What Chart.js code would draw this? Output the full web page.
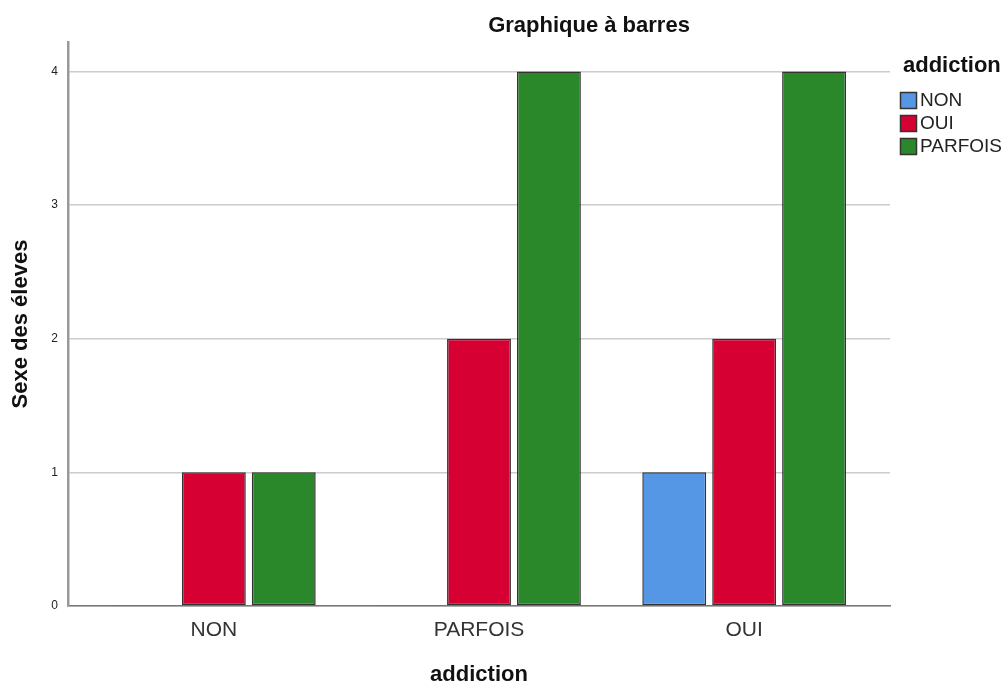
<!DOCTYPE html>
<html>
<head>
<meta charset="utf-8">
<script src="https://cdn.jsdelivr.net/npm/chart.js@4"></script>
<style>
  html, body { margin: 0; padding: 0; background: #ffffff; }
  #wrap { width: 1006px; height: 684px; }
</style>
</head>
<body>
<div id="wrap"><canvas id="barChart" width="1006" height="684"></canvas></div>
<script>
const categories = ['NON', 'PARFOIS', 'OUI'];
const seriesNames = ['NON', 'OUI', 'PARFOIS'];
const valuesNon = [0, 0, 1];
const valuesOui = [1, 2, 2];
const valuesParfois = [1, 4, 4];
const yTicks = [0, 1, 2, 3, 4];

const colors = ['#5596e5', '#d70033', '#2a882b'];
const FONT = '"Liberation Sans", Arial, sans-serif';

function toPoints(values) {
    return values.map(function(v, i) { return { x: i, y: v }; });
}

// titre et légende dessinés à la main pour caler les positions
const decorPlugin = {
    id: 'decor',
    afterDraw: function(chart) {
        const ctx = chart.ctx;
        ctx.save();
        ctx.fillStyle = '#111';
        ctx.font = 'bold 22px ' + FONT;
        ctx.textAlign = 'center';
        ctx.textBaseline = 'middle';
        ctx.fillText('Graphique à barres', 589, 26);

        ctx.textAlign = 'left';
        ctx.font = 'bold 22px ' + FONT;
        ctx.fillText('addiction', 903, 66);

        ctx.font = '19px ' + FONT;
        chart.data.datasets.forEach(function(ds, i) {
            const y = 100 + i * 23;
            ctx.fillStyle = ds.backgroundColor;
            ctx.fillRect(900, y - 8, 17, 17);
            ctx.strokeStyle = '#333';
            ctx.lineWidth = 1.5;
            ctx.strokeRect(900.5, y - 7.5, 16, 16);
            ctx.fillStyle = '#222';
            ctx.fillText(ds.label, 920, y + 1);
        });
        ctx.restore();
    }
};

const ctx = document.getElementById('barChart').getContext('2d');

new Chart(ctx, {
    type: 'bar',
    data: {
        datasets: [valuesNon, valuesOui, valuesParfois].map(function(vals, i) {
            return {
                label: seriesNames[i],
                data: toPoints(vals),
                backgroundColor: colors[i],
                borderColor: '#333333',
                borderWidth: 1.5,
                borderSkipped: false,
                minBarLength: 1,
                categoryPercentage: 0.791,
                barPercentage: 0.914
            };
        })
    },
    plugins: [decorPlugin],
    options: {
        responsive: false,
        animation: false,
        layout: {
            padding: { left: 0, right: 116, top: 42, bottom: 0 }
        },
        plugins: {
            legend: { display: false },
            tooltip: { enabled: false }
        },
        scales: {
            x: {
                type: 'linear',
                offset: false,
                min: -0.55,
                max: 2.55,
                afterBuildTicks: function(scale) {
                    scale.ticks = categories.map(function(c, i) { return { value: i }; });
                },
                afterFit: function(scale) { scale.height = 78; },
                grid: { display: false, drawTicks: false },
                border: { color: '#777777', width: 1.5 },
                ticks: {
                    color: '#333333',
                    padding: 12,
                    font: { family: FONT, size: 21 },
                    callback: function(value) { return categories[value]; }
                },
                title: {
                    display: true,
                    text: 'addiction',
                    color: '#111',
                    font: { family: FONT, size: 22, weight: 'bold' },
                    padding: { top: 0, bottom: -4 }
                }
            },
            y: {
                min: 0,
                max: 4.22,
                afterBuildTicks: function(scale) {
                    scale.ticks = yTicks.map(function(v) { return { value: v }; });
                },
                afterFit: function(scale) { scale.width = 68; },
                grid: {
                    color: '#cccccc',
                    lineWidth: 1.5,
                    drawTicks: false
                },
                border: { color: '#999999', width: 2.5 },
                ticks: {
                    color: '#222',
                    padding: 10,
                    font: { family: FONT, size: 12 }
                },
                title: {
                    display: true,
                    text: 'Sexe des éleves',
                    color: '#111',
                    font: { family: FONT, size: 22, weight: 'bold' },
                    padding: { top: 8, bottom: 0 }
                }
            }
        }
    }
});
</script>
</body>
</html>
